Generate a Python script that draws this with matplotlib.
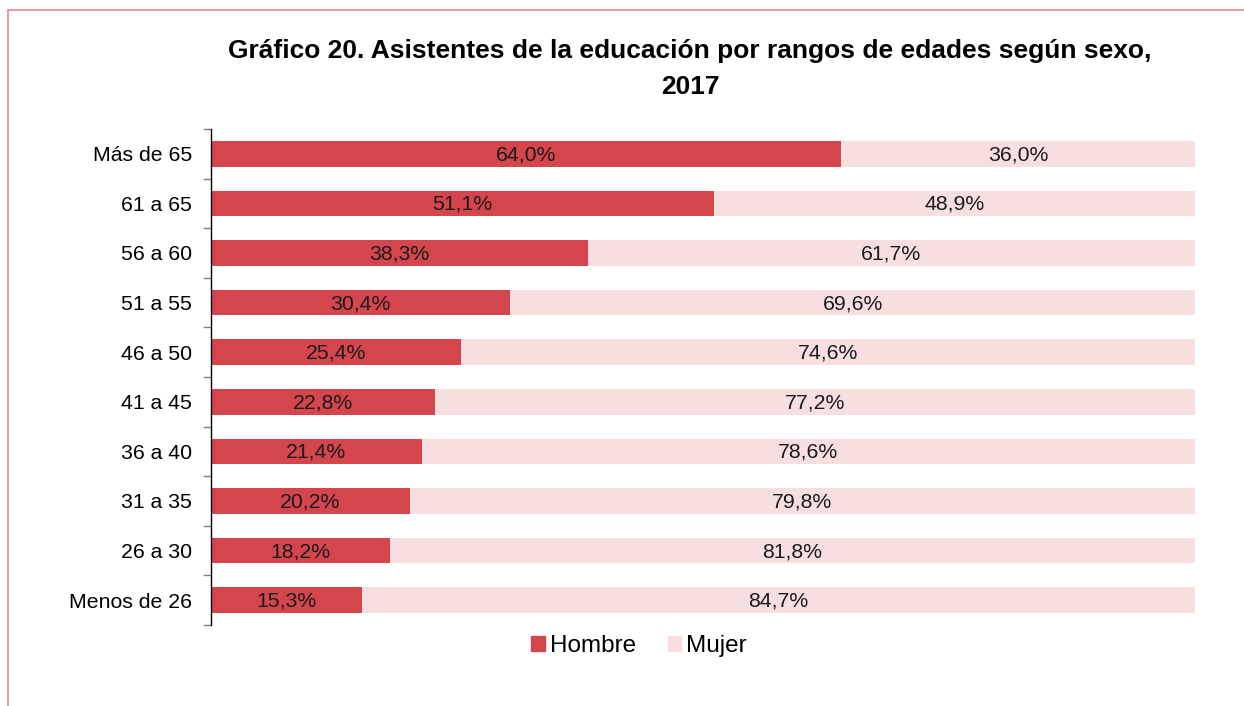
import matplotlib
matplotlib.use("Agg")
import matplotlib.pyplot as plt
from matplotlib.patches import Rectangle, Patch
import numpy as np

plt.rcParams['font.family'] = ['Liberation Sans', 'DejaVu Sans']

categories = ["Más de 65", "61 a 65", "56 a 60", "51 a 55", "46 a 50",
              "41 a 45", "36 a 40", "31 a 35", "26 a 30", "Menos de 26"]
hombre = [64.0, 51.1, 38.3, 30.4, 25.4, 22.8, 21.4, 20.2, 18.2, 15.3]
mujer = [36.0, 48.9, 61.7, 69.6, 74.6, 77.2, 78.6, 79.8, 81.8, 84.7]
series_names = ["Hombre", "Mujer"]
title = "Gráfico 20. Asistentes de la educación por rangos de edades según sexo,\n2017"

c_h = "#D4454D"
c_m = "#F7DFE0"

fig = plt.figure(figsize=(12.44, 7.06), dpi=100)
ax = fig.add_axes([211/1244, 1-625/706, (1195-211)/1244, (625-129)/706])

y = np.arange(len(categories))
bh = 0.52
ax.barh(y, hombre, height=bh, color=c_h)
ax.barh(y, mujer, left=hombre, height=bh, color=c_m)

def fmt(v):
    return f"{v:.1f}%".replace(".", ",")

fs = 15.3
for i in range(len(categories)):
    ax.text(hombre[i]/2, y[i] + 0.02, fmt(hombre[i]), ha='center', va='center', fontsize=fs, color='#1a1a1a')
    ax.text(hombre[i] + mujer[i]/2, y[i] + 0.02, fmt(mujer[i]), ha='center', va='center', fontsize=fs, color='#1a1a1a')

ax.set_xlim(0, 100)
ax.set_ylim(len(categories)-0.5, -0.5)
ax.set_yticks(y)
ax.set_yticklabels(categories, fontsize=fs)
ax.tick_params(axis='y', which='major', length=0, pad=13.5)
ax.set_yticks(np.arange(-0.5, len(categories)), minor=True)
ax.tick_params(axis='y', which='minor', length=6, color='#808080', width=1)
ax.set_xticks([])
for s in ['top', 'right', 'bottom']:
    ax.spines[s].set_visible(False)
ax.spines['left'].set_color('black')
ax.spines['left'].set_linewidth(1)

fig.text(690/1244, 1-69/706, title, ha='center', va='center', fontsize=19,
         fontweight='bold', linespacing=1.58)

handles = [Patch(color=c_h, label=series_names[0]), Patch(color=c_m, label=series_names[1])]
fig.legend(handles=handles, loc='center', bbox_to_anchor=(639/1244, 1-646/706), ncol=2,
           frameon=False, fontsize=17.5, handlelength=0.56, handleheight=0.56,
           handletextpad=0.2, columnspacing=1.3)

fig.patches.append(Rectangle((8/1244, -0.1), 1.2, 1-9.5/706+0.1, transform=fig.transFigure,
                             fill=False, edgecolor='#E8868C', linewidth=1.2))

fig.savefig("out.png", dpi=100)
